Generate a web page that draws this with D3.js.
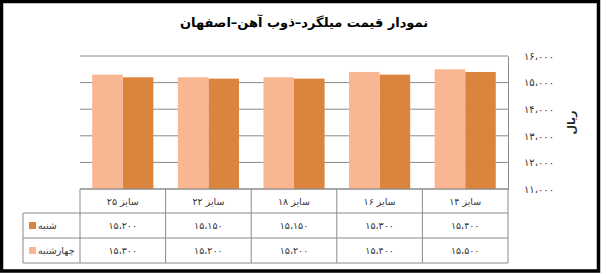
<!DOCTYPE html>
<html><head><meta charset="utf-8">
<script src="https://cdn.jsdelivr.net/npm/d3@7/dist/d3.min.js"></script>
<style>body{margin:0;background:#fff}svg{display:block}</style>
</head><body><svg id="c" width="606" height="276"></svg>
<script>
const title = "نمودار قیمت میلگرد–ذوب آهن–اصفهان";
const categories = ["سایز ۲۵", "سایز ۲۲", "سایز ۱۸", "سایز ۱۶", "سایز ۱۴"];
const seriesNames = ["شنبه", "چهارشنبه"];
const shanbe = [15200, 15150, 15150, 15300, 15400];
const chaharshanbe = [15300, 15200, 15200, 15400, 15500];
const yTicks = [11000, 12000, 13000, 14000, 15000, 16000];
const yLabel = "ریال";
const colors = ["#DB843D", "#F8B692"];

const fa = n => {
  const s = d3.format(",")(n).replace(/,/g, "،");
  return s.replace(/[0-9]/g, d => "۰۱۲۳۴۵۶۷۸۹"[+d]);
};
const font = "DejaVu Sans, sans-serif";
const svg = d3.select("#c");
svg.append("rect").attr("x", 1.5).attr("y", 1.5).attr("width", 597).attr("height", 269.5)
  .attr("fill", "#fff").attr("stroke", "#000").attr("stroke-width", 3.5);

svg.append("text").attr("x", 304).attr("y", 27).attr("text-anchor", "middle")
  .attr("font-family", font).attr("font-weight", "bold").attr("font-size", 13)
  .attr("fill", "#000").text(title);

const L = 80, R = 508, T = 56, B = 189;
const x = d3.scaleBand().domain(categories).range([L, R]).padding(0);
const y = d3.scaleLinear().domain([11000, 16000]).range([B, T]);
const bw = x.bandwidth();
const data = [shanbe, chaharshanbe];
const sub = d3.scaleBand().domain([1, 0]).range([0, bw]).paddingInner(0).paddingOuter(0.4);

svg.append("g").selectAll("line").data(yTicks).join("line")
  .attr("x1", L).attr("x2", R).attr("y1", d => y(d)).attr("y2", d => y(d))
  .attr("stroke", "#8a8a8a").attr("stroke-width", 1);

data.forEach((vals, si) => {
  svg.append("g").selectAll("rect").data(vals).join("rect")
    .attr("x", (d, i) => x(categories[i]) + sub(si))
    .attr("width", sub.bandwidth())
    .attr("y", d => y(d)).attr("height", d => B - y(d))
    .attr("fill", colors[si]);
});

const ax = svg.append("g").attr("transform", `translate(${R},0)`)
  .call(d3.axisRight(y).tickValues(yTicks).tickSize(0).tickPadding(16).tickFormat(fa));
ax.select(".domain").attr("stroke", "#8a8a8a");
ax.selectAll("text").attr("font-family", font).attr("font-size", 10).attr("fill", "#333");

svg.append("text").attr("transform", `translate(572,${(T + B) / 2}) rotate(-90)`)
  .attr("text-anchor", "middle").attr("dominant-baseline", "middle")
  .attr("font-family", font).attr("font-weight", "bold").attr("font-size", 11).attr("fill", "#222").text(yLabel);

const rows = [B, 213, 238, 263];
const LL = 23;
const tg = svg.append("g").attr("stroke", "#8a8a8a").attr("stroke-width", 1);
tg.append("line").attr("x1", L).attr("x2", R).attr("y1", rows[0]).attr("y2", rows[0]);
rows.slice(1).forEach(r => tg.append("line").attr("x1", LL).attr("x2", R).attr("y1", r).attr("y2", r));
categories.forEach(c => tg.append("line").attr("x1", x(c)).attr("x2", x(c)).attr("y1", rows[0]).attr("y2", rows[3]));
tg.append("line").attr("x1", R).attr("x2", R).attr("y1", rows[0]).attr("y2", rows[3]);
tg.append("line").attr("x1", LL).attr("x2", LL).attr("y1", rows[1]).attr("y2", rows[3]);

function txt(xp, yp, s, anchor) {
  return svg.append("text").attr("x", xp).attr("y", yp).attr("text-anchor", anchor || "middle")
    .attr("dominant-baseline", "central").attr("font-family", font).attr("font-size", 9.5)
    .attr("fill", "#333").text(s);
}
categories.forEach((c, i) => {
  txt(x(c) + bw / 2, (rows[0] + rows[1]) / 2, c);
  txt(x(c) + bw / 2, (rows[1] + rows[2]) / 2, fa(shanbe[i]));
  txt(x(c) + bw / 2, (rows[2] + rows[3]) / 2, fa(chaharshanbe[i]));
});
seriesNames.forEach((n, si) => {
  const cy = (rows[si + 1] + rows[si + 2]) / 2;
  svg.append("rect").attr("x", 29).attr("y", cy - 3.5).attr("width", 7).attr("height", 7).attr("fill", colors[si]);
  txt(38, cy, n, "start");
});
</script></body></html>
